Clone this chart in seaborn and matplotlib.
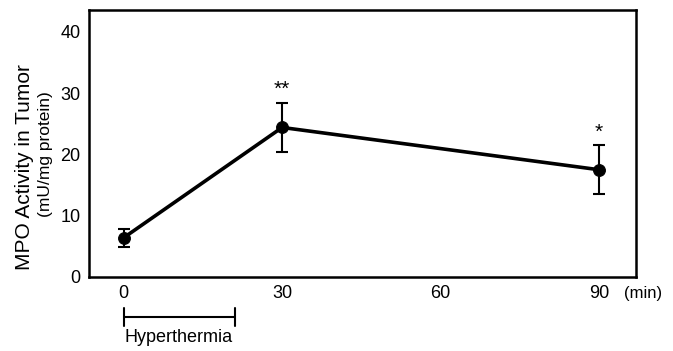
import pandas as pd
import matplotlib.pyplot as plt
import seaborn as sns

# data
time_min = [0, 30, 90]
mpo_activity = [6.4, 24.4, 17.5]
mpo_err = [1.5, 4.0, 4.0]
signif = ["", "**", "*"]
x_ticks = [0, 30, 60, 90]
y_ticks = [0, 10, 20, 30, 40]
hyperthermia_span = [0, 21]

df = pd.DataFrame({"time": time_min, "mpo": mpo_activity, "err": mpo_err})

sns.set_style("white")
plt.rcParams["font.family"] = ["Liberation Sans", "DejaVu Sans"]
plt.rcParams["text.color"] = "black"
plt.rcParams["xtick.color"] = "black"
plt.rcParams["ytick.color"] = "black"

fig = plt.figure(figsize=(6.73, 3.51), dpi=100)
ax = fig.add_axes([0.132, 0.211, 0.813, 0.761])

# error bars
ax.errorbar(df["time"], df["mpo"], yerr=df["err"], fmt="none",
            ecolor="black", elinewidth=1.5, capsize=4.5, capthick=1.5, zorder=2)

# line with markers
sns.lineplot(data=df, x="time", y="mpo", ax=ax, color="black",
             linewidth=2.6, marker="o", markersize=8.5, markeredgecolor="black",
             zorder=3)

# significance stars
for t, m, e, s in zip(time_min, mpo_activity, mpo_err, signif):
    if s:
        ax.text(t, m + e + 0.6, s, ha="center", va="bottom", fontsize=15)

ax.set_xlim(-6.6, 97)
ax.set_ylim(0, 43.6)
ax.set_xticks(x_ticks)
ax.set_yticks(y_ticks)
ax.set_xticklabels([str(v) for v in x_ticks], fontsize=13)
ax.set_yticklabels([str(v) for v in y_ticks], fontsize=13)
ax.tick_params(axis="both", direction="in", length=4, width=1.2, pad=6)
ax.set_xlabel("")
ax.set_ylabel("")
for sp in ax.spines.values():
    sp.set_linewidth(1.8)
    sp.set_color("black")

# units on x axis
ax.text(98.3, -1.5, "(min)", ha="center", va="top", fontsize=12,
        clip_on=False)

# hyperthermia bar below axis
yb = -6.5
ax.plot(hyperthermia_span, [yb, yb], color="black", lw=1.5, clip_on=False)
for xv in hyperthermia_span:
    ax.plot([xv, xv], [yb + 1.5, yb - 1.5], color="black", lw=1.5, clip_on=False)
ax.text(0.2, yb - 2.0, "Hyperthermia", ha="left", va="top", fontsize=13)

# y axis label
fig.text(0.037, 0.525, "MPO Activity in Tumor", rotation=90,
         ha="center", va="center", fontsize=15)
fig.text(0.068, 0.56, "(mU/mg protein)", rotation=90,
         ha="center", va="center", fontsize=12.5)

plt.savefig("out.png", dpi=100)
